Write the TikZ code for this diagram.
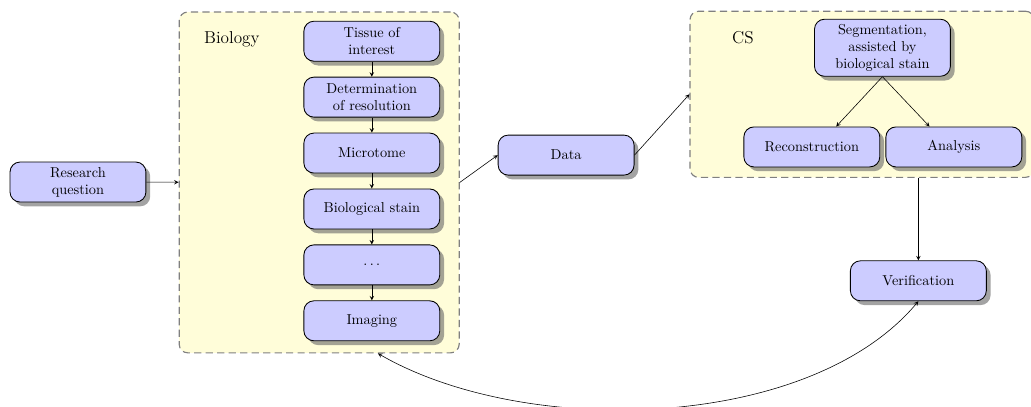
\documentclass[tikz,border=0pt]{standalone}
\usepackage{tikz}
\usetikzlibrary{arrows,shadows,calc}
\tikzset{
	stepbox/.style={draw=black, semithick, fill=blue!20, rounded corners=7pt, minimum width=3.33cm, minimum height=0.98cm, text width=2.5cm, align=center, drop shadow={fill=black!60, opacity=.6, shadow xshift=3pt, shadow yshift=-3pt}},
	groupbox/.style={draw=gray, thick, dash pattern=on 5pt off 3pt, fill=yellow!15, rounded corners=6pt},
	flow/.style={->, >=stealth}
}

\begin{document}
\begin{tikzpicture}
			%%%%% START %%%%%
			
			\useasboundingbox (0, 0) rectangle (25.26, 9.95);
			
			\node[groupbox, minimum width=6.86cm, minimum height=8.35cm] (bio) at (7.82, 5.48) {};
			\node[groupbox, minimum width=8.43cm, minimum height=4.07cm] (cs) at (21.12, 7.64) {};
			
			\node[font=\large] (biolabel) at (5.68, 8.99) {Biology};
			\node[font=\large] (cslabel) at (18.2, 9.02) {CS};
			
			\node[stepbox] (question) at (1.91, 5.49) {Research question};
			
			\node[stepbox] (tissue) at (9.11, 8.94) {Tissue of interest};
			\node[stepbox] (resolution) at (9.11, 7.57) {Determination of resolution};
			\node[stepbox] (microtome) at (9.11, 6.2) {Microtome};
			\node[stepbox] (stain) at (9.11, 4.83) {Biological stain};
			\node[stepbox] (dots) at (9.11, 3.46) {$\ldots$};
			\node[stepbox] (imaging) at (9.11, 2.09) {Imaging};
			
			\node[stepbox] (data) at (13.87, 6.15) {Data};
			
			\node[stepbox] (seg) at (21.62, 8.78) {Segmentation, assisted by biological stain};
			\node[stepbox] (recon) at (19.89, 6.35) {Reconstruction};
			\node[stepbox] (analysis) at (23.37, 6.35) {Analysis};
			
			\node[stepbox] (verif) at (22.5, 3.07) {Verification};
			
			\draw[flow] (question) -- (bio);
			
			\draw[flow] (tissue) -- (resolution);
			\draw[flow] (resolution) -- (microtome);
			\draw[flow] (microtome) -- (stain);
			\draw[flow] (stain) -- (dots);
			\draw[flow] (dots) -- (imaging);
			
			\draw[flow] (bio.east) -- (data.west);
			\draw[flow] (data.east) -- (cs.west);
			
			\draw[flow] (seg.south) -- (recon.40);
			\draw[flow] (seg.south) -- (analysis.140);
			
			\draw[flow] (cs.south -| verif.north) -- (verif.north);
			\draw[flow, <->] (verif.south) to[out=230, in=-30, looseness=0.8] ($(bio.south -| imaging.south)+(0.15,0)$);
			
			%%%%% END %%%%%
		\end{tikzpicture}
\end{document}
